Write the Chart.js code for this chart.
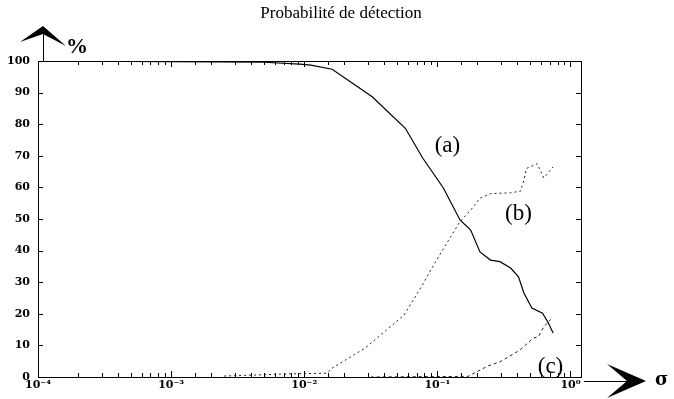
<!DOCTYPE html>
<html lang="fr">
<head>
    <meta charset="UTF-8">
    <title>Probabilité de détection</title>
    <script src="https://cdn.jsdelivr.net/npm/chart.js"></script>
    <style>
        body { margin: 0; background: #fff; }
        canvas { display: block; }
    </style>
</head>
<body>
<canvas id="chart" width="674" height="399"></canvas>
<script>
    // sigma (log scale) and detection probability in %
    const sigmaA = [0.0001, 0.0050, 0.0093, 0.0112, 0.0162, 0.0324, 0.0575, 0.0776, 0.111, 0.148, 0.178, 0.209, 0.251, 0.295, 0.355, 0.407, 0.447, 0.513, 0.617, 0.676, 0.741];
    const curveA = [100, 99.6, 99, 98.7, 97.4, 88.7, 78.7, 69.3, 59.8, 49.7, 46.5, 39.6, 37, 36.5, 34.5, 31.7, 26.6, 21.8, 20.2, 17.4, 13.9];

    const sigmaB = [0.0025, 0.0079, 0.0148, 0.0162, 0.0288, 0.0562, 0.0759, 0.0955, 0.126, 0.148, 0.178, 0.209, 0.251, 0.355, 0.422, 0.447, 0.468, 0.562, 0.631, 0.741];
    const curveB = [0.3, 1, 1.2, 2.8, 9.2, 19.6, 28.6, 36, 44.4, 49.2, 52.8, 56.6, 58, 58.3, 58.8, 62.3, 66, 67.5, 63, 66.5];

    const sigmaC = [0.0316, 0.170, 0.240, 0.295, 0.417, 0.525, 0.575, 0.631, 0.708];
    const curveC = [0, 0.2, 3.5, 4.8, 8.5, 12.3, 12.8, 15.9, 18.2];

    const yTicks = [0, 10, 20, 30, 40, 50, 60, 70, 80, 90, 100];
    const curveLabels = [
        { text: '(a)', x: 0.119, y: 73 },
        { text: '(b)', x: 0.407, y: 51.6 },
        { text: '(c)', x: 0.708, y: 3.2 }
    ];
    const titleText = 'Probabilité de détection';

    const sup = { '-': '⁻', '0': '⁰', '1': '¹', '2': '²', '3': '³', '4': '⁴' };
    function isDecade(v) {
        const l = Math.log10(v);
        return Math.abs(l - Math.round(l)) < 1e-6;
    }
    function toPoints(xs, ys) {
        return xs.map((x, i) => ({ x: x, y: ys[i] }));
    }

    // title, inward ticks, frame, arrows and curve labels
    const decor = {
        id: 'decor',
        afterDraw(chart) {
            const ctx = chart.ctx;
            const a = chart.chartArea;
            const xs = chart.scales.x, ys = chart.scales.y;
            ctx.save();
            ctx.strokeStyle = '#000';
            ctx.fillStyle = '#000';
            ctx.lineWidth = 1;

            ctx.font = '17px "Liberation Serif"';
            ctx.textAlign = 'center'; ctx.textBaseline = 'middle';
            ctx.fillText(titleText, 341, 14);

            ctx.strokeRect(a.left + 0.5, a.top + 0.5, a.right - a.left, a.bottom - a.top);

            ctx.beginPath();
            xs.ticks.forEach(t => {
                const px = Math.round(xs.getPixelForValue(t.value)) + 0.5;
                const len = isDecade(t.value) ? 6 : 4;
                ctx.moveTo(px, a.bottom); ctx.lineTo(px, a.bottom - len);
                ctx.moveTo(px, a.top); ctx.lineTo(px, a.top + len);
            });
            yTicks.forEach(v => {
                const py = Math.round(ys.getPixelForValue(v)) + 0.5;
                ctx.moveTo(a.left, py); ctx.lineTo(a.left + 5, py);
                ctx.moveTo(a.right, py); ctx.lineTo(a.right - 5, py);
            });
            ctx.stroke();

            // y arrow
            const ax = a.left + 5;
            ctx.beginPath();
            ctx.moveTo(ax + 0.5, a.top); ctx.lineTo(ax + 0.5, 30);
            ctx.stroke();
            ctx.beginPath();
            ctx.moveTo(ax, 26); ctx.lineTo(ax + 23, 46); ctx.lineTo(ax, 34); ctx.lineTo(ax - 23, 42);
            ctx.closePath(); ctx.fill();
            ctx.font = 'bold 22px "Liberation Serif"';
            ctx.textAlign = 'left';
            ctx.fillText('%', 66, 47);

            // x arrow
            const ay = a.bottom + 4;
            ctx.beginPath();
            ctx.moveTo(a.right + 3, ay + 0.5); ctx.lineTo(630, ay + 0.5);
            ctx.stroke();
            ctx.beginPath();
            ctx.moveTo(646, ay); ctx.lineTo(607, ay - 17); ctx.lineTo(627, ay); ctx.lineTo(607, ay + 17);
            ctx.closePath(); ctx.fill();
            ctx.font = 'bold 18px "DejaVu Serif"';
            ctx.fillText('σ', 655, ay - 1);

            // curve labels
            ctx.font = '23px "Liberation Serif"';
            ctx.textAlign = 'center';
            curveLabels.forEach(l => {
                ctx.fillText(l.text, xs.getPixelForValue(l.x), ys.getPixelForValue(l.y));
            });
            ctx.restore();
        }
    };

    new Chart(document.getElementById('chart'), {
        type: 'line',
        data: {
            datasets: [
                { label: '(a)', data: toPoints(sigmaA, curveA), borderColor: '#000', borderWidth: 1.2, pointRadius: 0, tension: 0 },
                { label: '(b)', data: toPoints(sigmaB, curveB), borderColor: '#222', borderWidth: 1, borderDash: [2, 3], pointRadius: 0, tension: 0 },
                { label: '(c)', data: toPoints(sigmaC, curveC), borderColor: '#222', borderWidth: 1, borderDash: [3, 3], pointRadius: 0, tension: 0 }
            ]
        },
        options: {
            responsive: false,
            animation: false,
            devicePixelRatio: 1,
            layout: { padding: { top: 61, left: 0, right: 93, bottom: 0 } },
            plugins: {
                legend: { display: false },
                tooltip: { enabled: false },
                title: { display: false }
            },
            scales: {
                x: {
                    type: 'logarithmic',
                    min: 0.0001,
                    max: 1.2,
                    afterFit(s) { s.height = 22; },
                    grid: { display: false, drawTicks: false },
                    border: { display: false },
                    ticks: {
                        autoSkip: false,
                        maxRotation: 0,
                        padding: 2,
                        color: '#000',
                        font: { family: '"DejaVu Serif"', size: 11, weight: 'bold' },
                        callback(v) {
                            if (!isDecade(v)) return '';
                            const e = String(Math.round(Math.log10(v)));
                            return '10' + e.split('').map(c => sup[c]).join('');
                        }
                    }
                },
                y: {
                    min: 0,
                    max: 100,
                    afterFit(s) { s.width = 38; },
                    grid: { display: false, drawTicks: false },
                    border: { display: false },
                    ticks: {
                        stepSize: 10,
                        padding: 8,
                        color: '#000',
                        font: { family: '"DejaVu Serif"', size: 11, weight: 'bold' }
                    }
                }
            }
        },
        plugins: [decor]
    });
</script>
</body>
</html>
